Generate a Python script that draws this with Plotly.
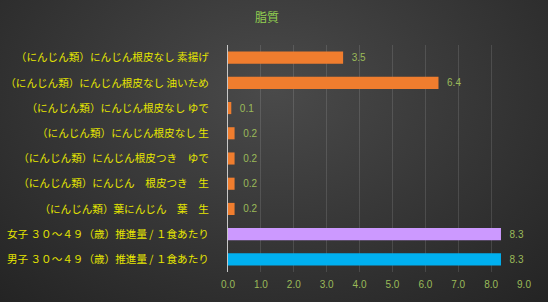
import base64
import plotly.graph_objects as go

categories = [
    "（にんじん類）にんじん根皮なし 素揚げ",
    "（にんじん類）にんじん根皮なし 油いため",
    "（にんじん類）にんじん根皮なし ゆで",
    "（にんじん類）にんじん根皮なし 生",
    "（にんじん類）にんじん根皮つき　ゆで",
    "（にんじん類）にんじん　根皮つき　生",
    "（にんじん類）葉にんじん　葉　生",
    "女子 ３０～４９（歳）推進量 / １食あたり",
    "男子 ３０～４９（歳）推進量 / １食あたり",
]
values = [3.5, 6.4, 0.1, 0.2, 0.2, 0.2, 0.2, 8.3, 8.3]
colors = ["#f07d2e"] * 7 + ["#cc99ff", "#00b0f0"]
tick_vals = [0, 1, 2, 3, 4, 5, 6, 7, 8, 9]
tick_text = ["0.0", "1.0", "2.0", "3.0", "4.0", "5.0", "6.0", "7.0", "8.0", "9.0"]
title = "脂質"

svg = """<svg xmlns='http://www.w3.org/2000/svg' width='548' height='302' viewBox='0 0 548 302' preserveAspectRatio='none'>
<defs><radialGradient id='g' cx='0.5' cy='0.3' r='0.75' gradientTransform='translate(0.5 0.3) scale(1 1.3) translate(-0.5 -0.3)'>
<stop offset='0' stop-color='#4a4a4a'/><stop offset='1' stop-color='#232323'/></radialGradient></defs>
<rect width='548' height='302' fill='url(#g)'/></svg>"""
bg_uri = "data:image/svg+xml;base64," + base64.b64encode(svg.encode()).decode()

L, R, T, B = 228, 24, 45, 30
pw, ph = 548 - L - R, 302 - T - B

fig = go.Figure()
fig.add_trace(go.Bar(
    y=categories, x=values, orientation="h",
    marker=dict(color=colors, line=dict(width=0)),
    width=0.48,
    text=["\u00a0\u00a0" + f"{v:.1f}" for v in values],
    textposition="outside",
    cliponaxis=False,
    textfont=dict(color="#9bbb59", size=10, family="Liberation Sans, Arial"),
))

fig.update_layout(
    width=548, height=302,
    margin=dict(l=L, r=R, t=T, b=B, autoexpand=False),
    paper_bgcolor="#333333",
    plot_bgcolor="rgba(0,0,0,0)",
    showlegend=False,
    title=dict(text=title, x=267 / 548, xanchor="center", y=1 - 18 / 302, yanchor="middle",
               font=dict(color="#92d050", size=12, family="Noto Sans CJK JP")),
    images=[dict(source=bg_uri, xref="paper", yref="paper", x=-L / pw, y=1 + T / ph,
                 sizex=548 / pw, sizey=302 / ph, sizing="stretch", layer="below",
                 xanchor="left", yanchor="top")],
    xaxis=dict(range=[0, 9], tickvals=tick_vals, ticktext=tick_text,
               showgrid=True, gridcolor="rgba(255,255,255,0.12)", gridwidth=1,
               zeroline=False, showline=False, automargin=False,
               tickfont=dict(color="#9bbb59", size=10, family="Liberation Sans, Arial"),
               ticks="", ticklabelstandoff=5),
    yaxis=dict(autorange="reversed", showgrid=False, ticks="", automargin=False,
               showline=True, linecolor="#c8c8c8", linewidth=1,
               tickfont=dict(color="#e6e600", size=10.6, family="Noto Sans CJK JP"),
               ticklabelstandoff=16),
    bargap=0.5,
)

fig.write_html("out.html")
